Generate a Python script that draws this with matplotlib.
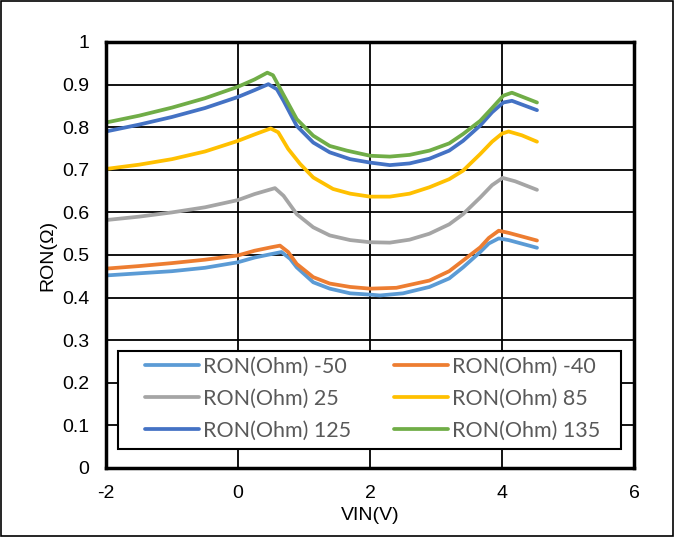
import matplotlib
matplotlib.use("Agg")
import matplotlib.pyplot as plt
from matplotlib.patches import Rectangle

# VIN(V) / RON values, one pair of lists per temperature
x_m50 = [-2.0, -1.5, -1.0, -0.5, 0.0, 0.25, 0.5, 0.66, 0.79, 0.89, 1.14, 1.39, 1.7, 2.0, 2.15, 2.5, 2.9, 3.2, 3.41, 3.67, 3.8, 3.95, 4.1, 4.53]
y_m50 = [0.452, 0.457, 0.462, 0.470, 0.483, 0.494, 0.502, 0.507, 0.491, 0.471, 0.436, 0.421, 0.410, 0.407, 0.405, 0.410, 0.425, 0.445, 0.471, 0.507, 0.527, 0.539, 0.535, 0.517]

x_m40 = [-2.0, -1.5, -1.0, -0.5, 0.0, 0.25, 0.5, 0.636, 0.76, 0.89, 1.14, 1.39, 1.7, 2.0, 2.4, 2.9, 3.2, 3.41, 3.67, 3.8, 3.95, 4.1, 4.53]
y_m40 = [0.468, 0.474, 0.481, 0.489, 0.499, 0.510, 0.518, 0.522, 0.507, 0.479, 0.448, 0.433, 0.425, 0.421, 0.423, 0.440, 0.462, 0.487, 0.518, 0.540, 0.557, 0.552, 0.534]

x_25 = [-2.0, -1.5, -1.0, -0.5, 0.0, 0.25, 0.56, 0.69, 0.89, 1.14, 1.39, 1.7, 2.0, 2.3, 2.6, 2.9, 3.2, 3.41, 3.67, 3.85, 4.01, 4.2, 4.53]
y_25 = [0.582, 0.590, 0.600, 0.612, 0.629, 0.643, 0.657, 0.639, 0.596, 0.565, 0.546, 0.535, 0.530, 0.529, 0.536, 0.550, 0.572, 0.596, 0.635, 0.664, 0.681, 0.673, 0.653]

x_85 = [-2.0, -1.5, -1.0, -0.5, 0.0, 0.25, 0.495, 0.61, 0.76, 0.94, 1.14, 1.44, 1.7, 2.0, 2.3, 2.6, 2.9, 3.2, 3.41, 3.67, 3.85, 4.0, 4.1, 4.3, 4.53]
y_85 = [0.702, 0.712, 0.725, 0.743, 0.768, 0.783, 0.797, 0.788, 0.749, 0.714, 0.682, 0.655, 0.644, 0.637, 0.637, 0.644, 0.659, 0.678, 0.698, 0.737, 0.766, 0.785, 0.790, 0.781, 0.766]

x_125 = [-2.0, -1.5, -1.0, -0.5, 0.0, 0.25, 0.46, 0.59, 0.69, 0.89, 1.14, 1.39, 1.7, 2.0, 2.3, 2.6, 2.9, 3.2, 3.41, 3.67, 3.85, 4.02, 4.15, 4.53]
y_125 = [0.790, 0.806, 0.824, 0.845, 0.871, 0.887, 0.901, 0.889, 0.862, 0.803, 0.764, 0.741, 0.725, 0.717, 0.711, 0.715, 0.726, 0.745, 0.768, 0.804, 0.835, 0.858, 0.862, 0.840]

x_135 = [-2.0, -1.5, -1.0, -0.5, 0.0, 0.25, 0.444, 0.53, 0.686, 0.89, 1.14, 1.39, 1.65, 2.0, 2.3, 2.6, 2.9, 3.2, 3.41, 3.67, 3.85, 4.02, 4.15, 4.53]
y_135 = [0.811, 0.827, 0.846, 0.868, 0.895, 0.912, 0.928, 0.922, 0.877, 0.819, 0.780, 0.756, 0.745, 0.733, 0.731, 0.735, 0.745, 0.762, 0.784, 0.815, 0.845, 0.874, 0.881, 0.858]

labels = ["RON(Ohm) -50", "RON(Ohm) -40", "RON(Ohm) 25", "RON(Ohm) 85", "RON(Ohm) 125", "RON(Ohm) 135"]
colores = ["#5B9BD5", "#ED7D31", "#A5A5A5", "#FFC000", "#4472C4", "#70AD47"]

xticks = [-2, 0, 2, 4, 6]
yticks = [0, 0.1, 0.2, 0.3, 0.4, 0.5, 0.6, 0.7, 0.8, 0.9, 1]
ytick_labels = ["0", "0.1", "0.2", "0.3", "0.4", "0.5", "0.6", "0.7", "0.8", "0.9", "1"]

series = [(x_m50, y_m50), (x_m40, y_m40), (x_25, y_25), (x_85, y_85), (x_125, y_125), (x_135, y_135)]

plt.rcParams['font.family'] = ['Liberation Sans', 'DejaVu Sans']

W, H = 674, 537
fig = plt.figure(figsize=(W / 100, H / 100), dpi=100)
ax = fig.add_axes([106 / W, 1 - 468 / H, 528 / W, 426 / H])

# Excel-like grid: black lines on every tick
ax.set_axisbelow(True)
ax.grid(True, color="black", linewidth=1.3)

lines = []
for (xs, ys), lab, c in zip(series, labels, colores):
    ln, = ax.plot(xs, ys, color=c, linewidth=2.7, label=lab,
                  solid_capstyle="round", solid_joinstyle="round")
    lines.append(ln)

ax.set_xlim(-2, 6)
ax.set_ylim(0, 1)
ax.set_xticks(xticks)
ax.set_xticklabels([str(t) for t in xticks])
ax.set_yticks(yticks)
ax.set_yticklabels(ytick_labels)
ax.tick_params(length=0, labelsize=14, pad=12)

for sp in ax.spines.values():
    sp.set_linewidth(2.5)
    sp.set_color("black")

ax.set_xlabel("VIN(V)", fontsize=14, labelpad=4)
ax.set_ylabel("RON(Ω)", fontsize=14, labelpad=4)

# legend box (drawn separately so the padding can match the original)
fig.patches.append(Rectangle((118 / W, 1 - 449 / H), (621 - 118) / W, (449 - 351) / H,
                             transform=fig.transFigure, fill=True, facecolor="white",
                             edgecolor="black", linewidth=1.5, zorder=5))

# legend entries ordered row-wise like the original (2 columns)
order = [0, 2, 4, 1, 3, 5]
leg = fig.legend([lines[i] for i in order], [labels[i] for i in order],
                 ncol=2, loc="upper left", bbox_to_anchor=(145 / W, 1 - 357 / H),
                 frameon=False, borderpad=0, borderaxespad=0,
                 handlelength=2.5, handletextpad=0.18, columnspacing=2.0, labelspacing=0.55,
                 prop={"family": ["Lato", "DejaVu Sans"], "size": 15.5})
leg.set_zorder(6)
for t in leg.get_texts():
    t.set_color("#595959")

# outer border of the chart area
fig.patches.append(Rectangle((0.002, 0.002), 0.996, 0.996, transform=fig.transFigure,
                             fill=False, edgecolor="black", linewidth=1.2))

plt.savefig("out.png", dpi=100)
plt.close()
